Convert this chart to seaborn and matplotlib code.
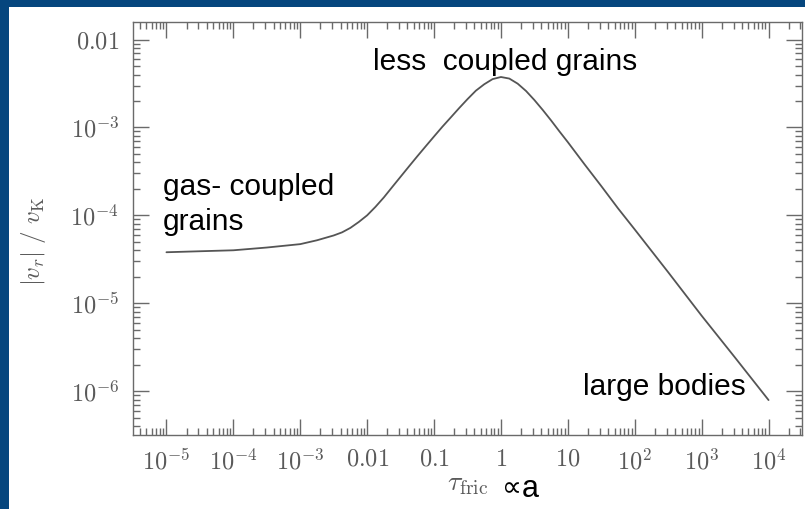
import numpy as np
import pandas as pd
import matplotlib
matplotlib.use("Agg")
import matplotlib.pyplot as plt
import seaborn as sns
from matplotlib.patches import Rectangle
from matplotlib.ticker import FixedLocator, FixedFormatter, LogLocator, NullFormatter

# Radial drift speed |v_r| / v_K versus friction time (log10 of tau_fric)
log_tau = [-5.0, -4.5, -4.0, -3.5, -3.0, -2.75, -2.5, -2.375, -2.25, -2.125,
           -2.0, -1.875, -1.75, -1.625, -1.5, -1.375, -1.25, -1.125, -1.0,
           -0.875, -0.75, -0.625, -0.5, -0.375, -0.25, -0.125, 0.0, 0.125,
           0.25, 0.375, 0.5, 0.625, 0.75, 0.875, 1.0, 1.25, 1.5, 1.75, 2.0,
           2.5, 3.0, 3.5, 4.0]
v_ratio = [3.8e-5, 3.9e-5, 4.0e-5, 4.3e-5, 4.7e-5, 5.2e-5, 5.9e-5, 6.4e-5,
           7.2e-5, 8.4e-5, 1.0e-4, 1.25e-4, 1.6e-4, 2.1e-4, 2.75e-4, 3.6e-4,
           4.7e-4, 6.1e-4, 7.9e-4, 1.02e-3, 1.3e-3, 1.66e-3, 2.1e-3, 2.62e-3,
           3.1e-3, 3.55e-3, 3.75e-3, 3.6e-3, 3.15e-3, 2.6e-3, 2.05e-3, 1.58e-3,
           1.2e-3, 9.0e-4, 6.8e-4, 3.8e-4, 2.15e-4, 1.2e-4, 6.9e-5, 2.25e-5,
           7.2e-6, 2.4e-6, 7.9e-7]

x_ticks = [1e-5, 1e-4, 1e-3, 1e-2, 1e-1, 1, 10, 1e2, 1e3, 1e4]
x_tick_labels = [r"$10^{-5}$", r"$10^{-4}$", r"$10^{-3}$", r"$0.01$", r"$0.1$",
                 r"$1$", r"$10$", r"$10^{2}$", r"$10^{3}$", r"$10^{4}$"]
y_ticks = [1e-6, 1e-5, 1e-4, 1e-3, 1e-2]
y_tick_labels = [r"$10^{-6}$", r"$10^{-5}$", r"$10^{-4}$", r"$10^{-3}$", r"$0.01$"]

df = pd.DataFrame({"tau": np.power(10.0, log_tau), "v": v_ratio})

sns.set_theme(style="ticks")
plt.rcParams["mathtext.fontset"] = "cm"
plt.rcParams["font.family"] = ["Liberation Sans", "DejaVu Sans"]

W, H = 805, 509
BLUE = "#05467e"
GREY = "#5a5a5a"

fig = plt.figure(figsize=(W / 100, H / 100), dpi=100)
fig.patch.set_facecolor("white")
fig.add_artist(Rectangle((0, 1 - 7 / H), 1, 7 / H, transform=fig.transFigure,
                         facecolor=BLUE, edgecolor="none", zorder=0))
fig.add_artist(Rectangle((0, 0), 9 / W, 1, transform=fig.transFigure,
                         facecolor=BLUE, edgecolor="none", zorder=0))

ax = fig.add_axes([133 / W, 74 / H, 669 / W, 413 / H])
sns.lineplot(data=df, x="tau", y="v", ax=ax, color="#555555", linewidth=1.3)

ax.set_xscale("log")
ax.set_yscale("log")
ax.set_xlim(10 ** -5.5, 10 ** 4.5)
ax.set_ylim(10 ** -6.5, 10 ** -1.8)

ax.xaxis.set_major_locator(FixedLocator(x_ticks))
ax.xaxis.set_major_formatter(FixedFormatter(x_tick_labels))
ax.yaxis.set_major_locator(FixedLocator(y_ticks))
ax.yaxis.set_major_formatter(FixedFormatter(y_tick_labels))
for axis in (ax.xaxis, ax.yaxis):
    axis.set_minor_locator(LogLocator(base=10, subs=np.arange(2, 10), numticks=30))
    axis.set_minor_formatter(NullFormatter())

ax.tick_params(which="both", direction="in", top=True, right=True,
               color="#6a6a6a", width=1.0)
ax.tick_params(which="major", length=11.5, pad=10, labelsize=17.5, labelcolor=GREY)
ax.tick_params(which="minor", length=4.8)
for s in ax.spines.values():
    s.set_color("#6a6a6a")
    s.set_linewidth(1.0)

ax.set_xlabel("")
ax.set_ylabel(r"$|v_r|\ /\ v_{\rm K}$", fontsize=18, color=GREY)
ax.yaxis.set_label_coords(-0.127, 0.47)

# x-axis title: tau_fric in roman math, proportionality in sans
fig.text(447 / W, 1 - 490 / H, r"$\tau_{\rm fric}$", fontsize=20, color=GREY,
         ha="left", va="baseline")
fig.text(502 / W, 1 - 496 / H, "\u221d", fontsize=20, color="black",
         ha="left", va="baseline", family=["Liberation Sans", "DejaVu Sans"])
fig.text(522 / W, 1 - 497 / H, "a", fontsize=22, color="black",
         ha="left", va="baseline", family=["Liberation Sans", "DejaVu Sans"])

# regime annotations
fig.text(373 / W, 1 - 70 / H, "less  coupled grains", fontsize=21.5, color="black",
         ha="left", va="baseline")
fig.text(163 / W, 1 - 195 / H, "gas- coupled", fontsize=21.5, color="black",
         ha="left", va="baseline")
fig.text(163 / W, 1 - 230 / H, "grains", fontsize=21.5, color="black",
         ha="left", va="baseline")
fig.text(583 / W, 1 - 395 / H, "large bodies", fontsize=21.5, color="black",
         ha="left", va="baseline")

fig.savefig("out.png", dpi=100)
